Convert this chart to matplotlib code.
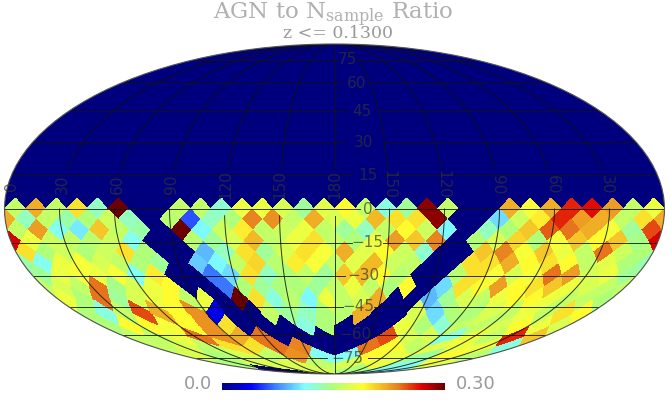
import numpy as np
import matplotlib
matplotlib.use("Agg")
import matplotlib.pyplot as plt
from matplotlib.collections import PolyCollection
from matplotlib.colors import LinearSegmentedColormap, Normalize
from matplotlib.colorbar import ColorbarBase

W, H = 671, 419
NSIDE = 8
VMAX = 0.30

# ratio per healpix ring, equator southwards, left to right on the map
# (odd rings start with the pixel that wraps round the map edge)
ring_eq0 = [.16, .22, .16, .20, .13, .30, 0, 0, .16, .16, .125, .18, .18, .17, .14, .175,
            .19, .16, .12, .14, .29, .16, 0, 0, .22, .185, .22, .26, .265, .225, .16, .18]
ring_eq1 = [.22, .13, .16, .135, .15, .165, .13, 0, .155, .06, .13, .15, .235, .23, .16, .22,
            .17, .18, .215, .20, .20, .29, 0, 0, .10, .165, .195, .26, .225, .22, .16, .20]
ring_eq2 = [.16, .225, .115, .105, .21, .16, .135, 0, .30, .11, .165, .195, .16, .165, .18, .16,
            .14, .13, .16, .19, .165, .11, 0, .13, .15, .21, .245, .24, .22, .185, .14, .25]
ring_eq3 = [.27, .18, .165, .16, .155, .165, .115, 0, 0, .155, .14, .17, .215, .16, .18, .20,
            .16, .15, .18, .225, .21, .235, 0, .15, .17, .205, .15, .185, .21, .19, .21, .145]
ring_eq4 = [.20, .15, .165, .15, .165, .20, .15, 0, 0, .09, .13, .20, .14, .17, .20, .185,
            .22, .175, .19, .165, .125, 0, 0, .21, .235, .185, .21, .18, .16, .24, .165, .15]
ring_eq5 = [.135, .115, .18, .185, .17, .16, .15, .14, 0, .095, .11, .16, .205, .155, .195, .185,
            .16, .175, .215, .165, .16, 0, 0, .20, .20, .22, .19, .20, .19, .16, .175, .15]
ring_eq6 = [.14, .18, .185, .18, .185, .115, .195, 0, 0, .07, .10, .20, .13, .15, .16, .14,
            .21, .215, .19, .155, 0, 0, .155, .20, .185, .17, .185, .24, .225, .17, .18, .14]
ring_eq7 = [.16, .17, .16, .24, .145, .17, .18, .19, 0, 0, .07, .15, .14, .15, .15, .14,
            .16, .18, .16, .15, .19, 0, .10, .20, .19, .225, .19, .20, .21, .18, .17, .16]
ring_eq8 = [.18, .15, .24, .14, .17, .18, .19, .16, .18, 0, .30, .20, .12, .155, .11, .18,
            .16, .17, .22, 0, 0, .09, .14, .17, .16, .18, .19, .19, .18, .16, .16, .15]
ring_cap7 = [.15, .12, .16, .25, .22, .19, .23, .03, 0, 0, .16, .14, .13, .15,
             .155, .22, 0, 0, .17, .10, .15, .15, .17, .16, .18, .16, .20, .19]
ring_cap6 = [.15, .19, .19, .185, .19, .23, .20, 0, 0, 0, .12, .15,
             0, 0, 0, .18, .15, .125, .16, .16, .17, .19, .18, .17]
ring_cap5 = [.16, .16, .18, .24, .23, .22, .24, 0, 0, 0,
             0, 0, .25, .17, .17, .12, .18, .16, .26, .21]
ring_cap4 = [.16, .17, .16, .20, .20, .24, .235, 0, 0, .24, .19, .16, .175, .18, .18, .12]
ring_cap3 = [.17, .15, .17, .16, .23, .115, .115, .19, .18, .14, .19, .155]
ring_cap2 = [.15, .17, .17, .16, .17, .18, .12, .175]
ring_cap1 = [0, .17, .15, .11]

equator_rings = [ring_eq0, ring_eq1, ring_eq2, ring_eq3, ring_eq4, ring_eq5, ring_eq6, ring_eq7, ring_eq8]
cap_rings = [ring_cap1, ring_cap2, ring_cap3, ring_cap4, ring_cap5, ring_cap6, ring_cap7]

# parallels: latitude, label, gap in the line (degrees of longitude from centre)
parallel_lats = [75, 60, 45, 30, 15, 0, -15, -30, -45, -60, -75]
parallel_gaps = [(3, 29), (7, 30), (8.5, 29), (6, 29), (10, 27), (14, 22),
                 (10, 27), (6, 29), (6, 27), (5, 30), (-10, 43)]
# meridians: offset from the centre, tick label
meridian_lons = [-150, -120, -90, -60, -30, 0, 30, 60, 90, 120, 150]
meridian_labels = ["30", "60", "90", "120", "150", "180", "150", "120", "90", "60", "30"]
meridian_ends = [0, 0, 0, -3, -3, -3, 0, 0, 0, 0, 0]

cmap = LinearSegmentedColormap.from_list("agn", [
    (0.0, "#00007f"), (0.13, "#0000ff"), (0.24, "#4080ff"), (0.37, "#80ffff"),
    (0.49, "#a8ff80"), (0.63, "#ffff30"), (0.79, "#e88020"), (0.895, "#e00000"),
    (1.0, "#6a0000")])
norm = Normalize(0, VMAX)


def plane_to_sky(x, y):
    # healpix projection plane -> lon, lat
    x = np.asarray(x)
    y = np.asarray(y)
    lon = x.copy()
    z = 8 * y / (3 * np.pi)
    polar = np.abs(y) > np.pi / 4
    sigma = np.maximum(2 - 4 * np.abs(y[polar]) / np.pi, 1e-9)
    xc = (np.floor((x[polar] + np.pi) / (np.pi / 2)) + 0.5) * np.pi / 2 - np.pi
    lon[polar] = xc + (x[polar] - xc) / sigma
    z[polar] = np.sign(y[polar]) * (1 - sigma ** 2 / 3)
    return lon, np.arcsin(np.clip(z, -1, 1))


def diamond(xc, yc):
    d = np.pi / (4 * NSIDE)
    t = np.linspace(0, 1, 6, endpoint=False)
    xs = np.concatenate([xc + d * t, xc + d - d * t, xc - d * t, xc - d + d * t])
    ys = np.concatenate([yc + d - d * t, yc - d * t, yc - d + d * t, yc + d * t])
    lon, lat = plane_to_sky(xs, ys)
    return np.column_stack([lon, lat])


verts, vals = [], []
step = np.pi / (2 * NSIDE)
for r, ring in enumerate(equator_rings):
    yc = -r * np.pi / (4 * NSIDE)
    for k, v in enumerate(ring):
        xc = -np.pi + (k + (0.5 if r % 2 == 0 else 0)) * step
        verts.append(diamond(xc, yc))
        vals.append(v)
        if r % 2 == 1 and k == 0:
            verts.append(diamond(np.pi, yc))
            vals.append(v)
for i, ring in enumerate(cap_rings, start=1):
    yc = -np.pi / 2 + i * np.pi / (4 * NSIDE)
    for n, v in enumerate(ring):
        q, m = divmod(n, i)
        xc = -np.pi + np.pi / 4 + q * np.pi / 2 + (m - (i - 1) / 2) * step
        verts.append(diamond(xc, yc))
        vals.append(v)

fig = plt.figure(figsize=(W / 100, H / 100), dpi=100)
ax = fig.add_axes([4.5 / W, (H - 374) / H, 660 / W, 330 / H], projection="mollweide")
ax.set_facecolor("#00007f")
ax.grid(False)
ax.set_xticklabels([])
ax.set_yticklabels([])
ax.tick_params(length=0)
for sp in ax.spines.values():
    sp.set_color("#555555")
    sp.set_linewidth(0.8)

cells = PolyCollection(verts, array=np.array(vals), cmap=cmap, norm=norm,
                       edgecolors="none", antialiaseds=False)
ax.add_collection(cells)

LINE = dict(color="#111111", lw=0.7, alpha=0.85)
LABEL = dict(color="#333333", alpha=0.7, fontsize=11, ha="center", va="center",
             family="DejaVu Sans")

for lat, (g0, g1) in zip(parallel_lats, parallel_gaps):
    la = np.radians(lat)
    ax.plot(np.radians([-180, g0]), [la, la], **LINE)
    ax.plot(np.radians([g1, 180]), [la, la], **LINE)
    ax.text(np.radians((g0 + g1) / 2), la, str(lat).replace("-", "\u2212"), **LABEL)

for lon, name, end in zip(meridian_lons, meridian_labels, meridian_ends):
    lo = np.radians(lon)
    ax.plot([lo, lo], np.radians([-89.9, end]), **LINE)
    ax.plot([lo, lo], np.radians([18, 89.9]), **LINE)
    ax.text(lo, np.radians(11), name, rotation=-90 if lon > 0 else 90, **LABEL)
ax.text(np.radians(-178), np.radians(10), "0", rotation=90, clip_on=False, **LABEL)

fig.text(333 / W, 1 - 15 / H, r"AGN to N$_{\mathrm{sample}}$ Ratio", color="#b0b0b0",
         fontsize=16.5, family="DejaVu Serif", ha="center", va="center", math_fontfamily="dejavuserif")
fig.text(338 / W, 1 - 34 / H, "z <= 0.1300", color="#999999",
         fontsize=12.5, family="DejaVu Serif", ha="center", va="center")

cax = fig.add_axes([222 / W, (H - 389.5) / H, 223 / W, 7 / H])
cb = ColorbarBase(cax, cmap=cmap, norm=norm, orientation="horizontal", ticks=[])
cb.outline.set_visible(False)
fig.text(198 / W, 1 - 384 / H, "0.0", color="#999999", fontsize=13, ha="center", va="center")
fig.text(476 / W, 1 - 384 / H, "0.30", color="#999999", fontsize=13, ha="center", va="center")

fig.savefig("out.png", dpi=100)
